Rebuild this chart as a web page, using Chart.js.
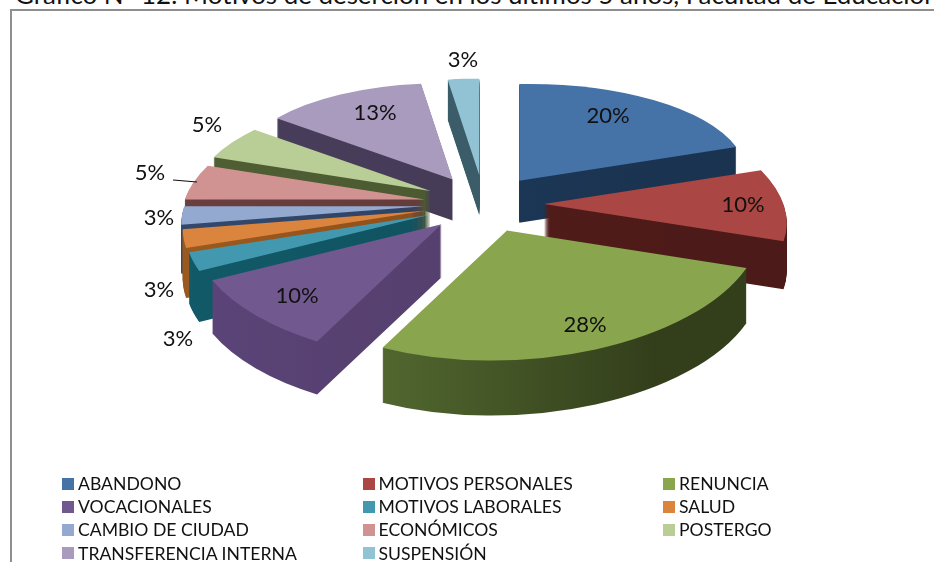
<!DOCTYPE html>
<html>
<head>
<meta charset="utf-8">
<title>Motivos de deserción</title>
<script src="https://cdn.jsdelivr.net/npm/chart.js@4"></script>
<style>
    html, body { margin: 0; padding: 0; background: #fff; }
    body { position: relative; width: 934px; height: 562px; overflow: hidden; font-family: Lato, sans-serif; color: #111; }
    #title { position: absolute; left: 15px; top: -22px; font-size: 25.9px; white-space: nowrap; }
    #frame { position: absolute; left: 10px; top: 9px; width: 940px; height: 570px; border: 2px solid #8f8f8f; box-sizing: border-box; }
    #pie-wrap { position: absolute; left: 0; top: 0; width: 934px; height: 562px; }
    #legend { position: absolute; left: 62px; top: 472px; display: grid; grid-template-columns: 300.5px 300.5px 200px; grid-auto-rows: 23.2px; font-size: 17.6px; white-space: nowrap; }
    #legend div { display: flex; align-items: center; }
    #legend i { display: inline-block; width: 12px; height: 12px; margin-right: 4px; }
</style>
</head>
<body>
<div id="title">Gráfico N° 12: Motivos de deserción en los últimos 5 años, Facultad de Educación</div>
<div id="frame"></div>
<div id="pie-wrap"><canvas id="reasons-chart" width="934" height="562"></canvas></div>
<div id="legend"></div>
<script>
const categories = ['ABANDONO', 'MOTIVOS PERSONALES', 'RENUNCIA', 'VOCACIONALES', 'MOTIVOS LABORALES', 'SALUD',
    'CAMBIO DE CIUDAD', 'ECONÓMICOS', 'POSTERGO', 'TRANSFERENCIA INTERNA', 'SUSPENSIÓN'];
const students = [8, 4, 11, 4, 1, 1, 1, 2, 2, 5, 1];

const topColors = ['#4572a7', '#aa4643', '#89a54e', '#71588f', '#4198af', '#db843d', '#93a9cf', '#d19392', '#b9cd96', '#a99bbd', '#92c3d4'];
const wallLeft = ['#1f3b5e', '#571f1c', '#607b39', '#5b4478', '#125a68', '#9a5a1f', '#33486c', '#6a3e3e', '#4f5e33', '#483d5a', '#3c5f6b'];
const wallRight = ['#1a3350', '#4c1a18', '#333f1b', '#523d68', '#0f4f5c', '#8a4a16', '#2d4060', '#5f3a3a', '#4a5830', '#453a56', '#3a5a66'];

// where the percent labels sit, same order as categories
const labelSpots = [[608, 116], [743, 205], [585, 325], [297, 296], [178, 339], [159, 290], [159, 218], [150, 173], [207, 125], [375, 113], [463, 60]];

// fake 3d view of the pie
const view = { x: 484, y: 204, rx: 240, ry: 115, explode: 60, squash: 0.48, depth: 48, perspective: 0.16 };

const total = students.reduce((a, b) => a + b, 0);

// rim point of the pie on screen, relative to the slice tip
function rimPoint(angle) {
    const k = 1 + view.perspective * Math.sin(angle);
    return [view.rx * Math.cos(angle) * k, view.ry * Math.sin(angle) * k];
}

const pie3d = {
    id: 'pie3d',
    beforeDatasetsDraw(chart) {
        const ctx = chart.ctx;
        const arcs = chart.getDatasetMeta(0).data.map((arc, i) => {
            const mid = arc.startAngle + arc.circumference / 2;
            return { arc, i, mid, k: 1 + view.perspective * Math.sin(mid) };
        });
        // back slices first
        arcs.sort((a, b) => Math.sin(a.mid) - Math.sin(b.mid));
        arcs.forEach(item => {
            const arc = item.arc;
            const R = arc.outerRadius;
            const px = view.x + view.explode * Math.cos(item.mid);
            const py = view.y + view.explode * view.squash * Math.sin(item.mid);
            const depth = Math.round(view.depth * item.k);

            // flat transform that puts both slice corners on the projected rim
            const x1 = Math.cos(arc.startAngle), y1 = Math.sin(arc.startAngle);
            const x2 = Math.cos(arc.endAngle), y2 = Math.sin(arc.endAngle);
            const p1 = rimPoint(arc.startAngle), p2 = rimPoint(arc.endAngle);
            const det = x1 * y2 - x2 * y1;
            const m11 = (p1[0] * y2 - p2[0] * y1) / det;
            const m12 = (p2[0] * x1 - p1[0] * x2) / det;
            const m21 = (p1[1] * y2 - p2[1] * y1) / det;
            const m22 = (p2[1] * x1 - p1[1] * x2) / det;
            const place = dy => {
                ctx.transform(m11 / R, m21 / R, m12 / R, m22 / R, px, py + dy);
                ctx.translate(-arc.x, -arc.y);
            };

            const grad = ctx.createLinearGradient(arc.x - R, 0, arc.x + R * 0.6, 0);
            grad.addColorStop(0, wallLeft[item.i]);
            grad.addColorStop(1, wallRight[item.i]);
            const topOptions = arc.options;
            arc.options = Object.assign({}, topOptions, { backgroundColor: grad });
            for (let dy = depth; dy > 0; dy--) {
                ctx.save();
                place(dy);
                arc.draw(ctx);
                ctx.restore();
            }
            arc.options = topOptions;
            ctx.save();
            place(0);
            arc.draw(ctx);
            ctx.restore();
        });
        return false;
    },
    afterDraw(chart) {
        const ctx = chart.ctx;
        ctx.save();
        ctx.strokeStyle = '#111';
        ctx.lineWidth = 1.2;
        ctx.beginPath();
        ctx.moveTo(173, 180);
        ctx.lineTo(197, 182);
        ctx.stroke();
        ctx.font = '22px Lato';
        ctx.fillStyle = '#111';
        ctx.textAlign = 'center';
        ctx.textBaseline = 'middle';
        students.forEach((n, i) => {
            ctx.fillText(Math.round(n / total * 100) + '%', labelSpots[i][0], labelSpots[i][1]);
        });
        ctx.restore();
    }
};

new Chart(document.getElementById('reasons-chart'), {
    type: 'pie',
    data: {
        labels: categories,
        datasets: [{
            data: students,
            backgroundColor: topColors,
            borderWidth: 0
        }]
    },
    options: {
        responsive: false,
        animation: false,
        events: [],
        plugins: {
            legend: { display: false },
            tooltip: { enabled: false }
        }
    },
    plugins: [pie3d]
});

const legend = document.getElementById('legend');
categories.forEach((name, i) => {
    const row = document.createElement('div');
    row.innerHTML = '<i style="background:' + topColors[i] + '"></i>' + name;
    legend.appendChild(row);
});
</script>
</body>
</html>
